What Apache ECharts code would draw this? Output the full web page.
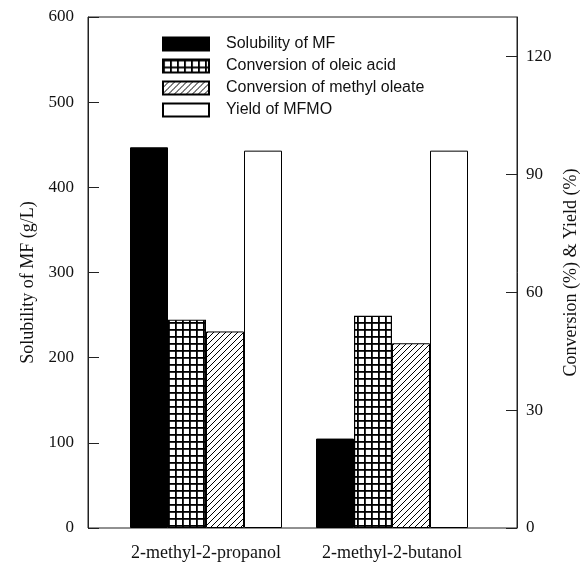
<!DOCTYPE html>
<html>
<head>
<meta charset="utf-8">
<script src="https://cdn.jsdelivr.net/npm/echarts@6/dist/echarts.min.js"></script>
<style>
html,body{margin:0;padding:0;background:#fff;}
#chart{width:584px;height:565px;}
</style>
</head>
<body>
<div id="chart"></div>
<script>
// ---- data ----
var categories = ['2-methyl-2-propanol', '2-methyl-2-butanol'];
var seriesNames = ['Solubility of MF', 'Conversion of oleic acid', 'Conversion of methyl oleate', 'Yield of MFMO'];
var solubilityMF = [447, 105];          // g/L, left axis
var convOleicAcid = [53, 54];           // %, right axis
var convMethylOleate = [50, 47];        // %, right axis
var yieldMFMO = [96, 96];               // %, right axis
var leftTicks = [0, 100, 200, 300, 400, 500, 600];
var rightTicks = [0, 30, 60, 90, 120];

// ---- patterns ----
function gridPattern() {
  var c = document.createElement('canvas');
  c.width = 7; c.height = 7;
  var g = c.getContext('2d');
  g.fillStyle = '#fff'; g.fillRect(0, 0, 7, 7);
  g.fillStyle = '#000';
  g.fillRect(0, 0, 7, 1.8);
  g.fillRect(0, 0, 1.8, 7);
  return c;
}
function hatchPattern() {
  var s = 6;
  var c = document.createElement('canvas');
  c.width = s; c.height = s;
  var g = c.getContext('2d');
  g.fillStyle = '#fff'; g.fillRect(0, 0, s, s);
  g.strokeStyle = '#000'; g.lineWidth = 1;
  g.beginPath();
  g.moveTo(0, s); g.lineTo(s, 0);
  g.moveTo(-1, 1); g.lineTo(1, -1);
  g.moveTo(s - 1, s + 1); g.lineTo(s + 1, s - 1);
  g.stroke();
  return c;
}

var serifFont = 'Liberation Serif';
var chart = echarts.init(document.getElementById('chart'), null, {renderer: 'canvas'});

var barBase = {type: 'bar', barWidth: 38, barGap: '0%', xAxisIndex: 0};
var option = {
  animation: false,
  backgroundColor: '#fff',
  grid: [
    {left: 113, right: 99, top: 17, bottom: 37, outerBoundsMode: 'none', containLabel: false},
    {left: 88, right: 67, top: 17, bottom: 37, outerBoundsMode: 'none', containLabel: false,
     show: true, borderColor: '#222', borderWidth: 1, backgroundColor: 'transparent', z: 0}
  ],
  legend: {
    orient: 'vertical',
    left: 157, top: 31,
    itemWidth: 46, itemHeight: 13, itemGap: 6,
    icon: 'rect',
    textStyle: {fontFamily: 'Liberation Sans', fontSize: 16, color: '#111', padding: [0, 0, 0, 12]},
    data: seriesNames
  },
  xAxis: [
    {type: 'category', gridIndex: 0, data: categories,
     axisLine: {show: false}, axisTick: {show: false},
     axisLabel: {fontFamily: serifFont, fontSize: 18, color: '#111', margin: 16, interval: 0, hideOverlap: false}},
    {type: 'value', gridIndex: 1, show: false}
  ],
  yAxis: [
    {type: 'value', gridIndex: 0, position: 'left', offset: 25, min: 0, max: 600, interval: 100,
     name: 'Solubility of MF (g/L)', nameLocation: 'middle', nameRotate: 90, nameGap: 46,
     nameTextStyle: {fontFamily: serifFont, fontSize: 18, color: '#111', padding: [0, 20, 0, 0]},
     axisLine: {show: true, lineStyle: {color: '#222'}},
     axisTick: {show: true, inside: true, length: 11, lineStyle: {color: '#222'}, customValues: leftTicks},
     axisLabel: {fontFamily: serifFont, fontSize: 17, color: '#111', margin: 14, customValues: leftTicks},
     splitLine: {show: false}},
    {type: 'value', gridIndex: 0, position: 'right', offset: 32, min: 0, max: 130,
     name: 'Conversion (%) & Yield (%)', nameLocation: 'middle', nameRotate: 90, nameGap: 30,
     nameTextStyle: {fontFamily: serifFont, fontSize: 18, color: '#111'},
     axisLine: {show: true, lineStyle: {color: '#222'}},
     axisTick: {show: true, inside: true, length: 11, lineStyle: {color: '#222'}, customValues: rightTicks},
     axisLabel: {fontFamily: serifFont, fontSize: 17, color: '#111', margin: 9, customValues: rightTicks},
     splitLine: {show: false}},
    {type: 'value', gridIndex: 1, show: false}
  ],
  series: [
    Object.assign({}, barBase, {name: seriesNames[0], yAxisIndex: 0, data: solubilityMF,
      itemStyle: {color: '#000', borderColor: '#000', borderWidth: 1}}),
    Object.assign({}, barBase, {name: seriesNames[1], yAxisIndex: 1, data: convOleicAcid,
      itemStyle: {color: {image: gridPattern(), repeat: 'repeat'}, borderColor: '#000', borderWidth: 1.2}}),
    Object.assign({}, barBase, {name: seriesNames[2], yAxisIndex: 1, data: convMethylOleate,
      itemStyle: {color: {image: hatchPattern(), repeat: 'repeat'}, borderColor: '#000', borderWidth: 1}}),
    Object.assign({}, barBase, {name: seriesNames[3], yAxisIndex: 1, data: yieldMFMO,
      itemStyle: {color: '#fff', borderColor: '#000', borderWidth: 1}})
  ]
};
chart.setOption(option);
</script>
</body>
</html>
